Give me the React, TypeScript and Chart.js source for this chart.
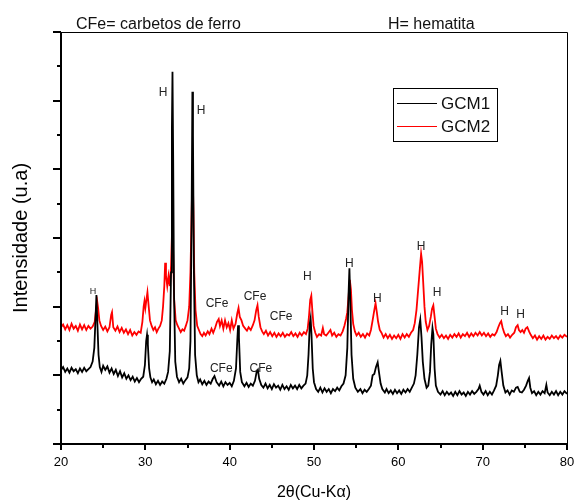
import React, { useEffect, useRef } from 'react';
import { Chart, registerables } from 'chart.js';

Chart.register(...registerables);

const FONT = '"Liberation Sans", Arial, sans-serif';

// 2θ (degrees) and intensity (arbitrary units)
const gcm1: [number, number][] = [
  [20.0, 1.08], [20.25, 1.12], [20.5, 1.05], [20.75, 1.10], [21.0, 1.04], [21.25, 1.11], [21.5, 1.06], [21.75, 1.09],
  [22.0, 1.03], [22.25, 1.10], [22.5, 1.05], [22.75, 1.11], [23.0, 1.06], [23.25, 1.09], [23.5, 1.12], [23.75, 1.20],
  [23.95, 1.40], [24.1, 1.85], [24.2, 2.17], [24.3, 1.80], [24.45, 1.30], [24.6, 1.12], [24.8, 1.05], [25.0, 1.14],
  [25.25, 1.08], [25.5, 1.13], [25.75, 1.04], [26.0, 1.10], [26.25, 1.02], [26.5, 1.08], [26.75, 0.99], [27.0, 1.06],
  [27.25, 0.97], [27.5, 1.03], [27.75, 0.95], [28.0, 1.00], [28.25, 0.93], [28.5, 0.98], [28.75, 0.91], [29.0, 0.96],
  [29.25, 0.90], [29.5, 0.95], [29.75, 0.98], [29.95, 1.15], [30.1, 1.50], [30.2, 1.59], [30.3, 1.45], [30.45, 1.10],
  [30.6, 0.97], [30.8, 0.90], [31.0, 0.94], [31.25, 0.87], [31.5, 0.92], [31.75, 0.86], [32.0, 0.91], [32.25, 0.88],
  [32.5, 0.95], [32.7, 1.05], [32.9, 1.35], [33.05, 2.5], [33.15, 4.6], [33.22, 5.42], [33.3, 4.2], [33.4, 2.2],
  [33.55, 1.2], [33.75, 0.98], [34.0, 0.90], [34.25, 0.95], [34.5, 0.88], [34.75, 0.93], [35.0, 0.97], [35.2, 1.10],
  [35.35, 1.5], [35.48, 3.2], [35.58, 5.13], [35.65, 4.5], [35.75, 2.6], [35.9, 1.3], [36.1, 1.00], [36.3, 0.90],
  [36.5, 0.94], [36.75, 0.87], [37.0, 0.92], [37.25, 0.86], [37.5, 0.91], [37.75, 0.88], [38.0, 0.95], [38.2, 0.99],
  [38.45, 0.90], [38.75, 0.85], [39.0, 0.91], [39.25, 0.84], [39.5, 0.90], [39.75, 0.86], [40.0, 0.89], [40.25, 0.84],
  [40.5, 0.92], [40.75, 1.10], [40.9, 1.50], [41.0, 1.73], [41.1, 1.55], [41.25, 1.05], [41.45, 0.90], [41.75, 0.84],
  [42.0, 0.89], [42.25, 0.83], [42.5, 0.88], [42.75, 0.85], [43.0, 0.92], [43.2, 1.05], [43.35, 1.08], [43.5, 0.95],
  [43.75, 0.86], [44.0, 0.82], [44.25, 0.88], [44.5, 0.81], [44.75, 0.86], [45.0, 0.80], [45.25, 0.87], [45.5, 0.82],
  [45.75, 0.85], [46.0, 0.79], [46.25, 0.86], [46.5, 0.80], [46.75, 0.84], [47.0, 0.79], [47.25, 0.86], [47.5, 0.81],
  [47.75, 0.85], [48.0, 0.80], [48.25, 0.86], [48.5, 0.81], [48.75, 0.85], [49.0, 0.88], [49.2, 1.00], [49.35, 1.30],
  [49.5, 1.75], [49.6, 1.83], [49.7, 1.60], [49.85, 1.10], [50.0, 0.90], [50.25, 0.80], [50.5, 0.76], [50.75, 0.82],
  [51.0, 0.75], [51.25, 0.81], [51.5, 0.76], [51.75, 0.80], [52.0, 0.74], [52.25, 0.80], [52.5, 0.77], [52.75, 0.82],
  [53.0, 0.78], [53.25, 0.84], [53.5, 0.88], [53.75, 1.00], [53.95, 1.40], [54.1, 2.20], [54.2, 2.56], [54.3, 2.10],
  [54.45, 1.30], [54.65, 0.95], [54.9, 0.82], [55.2, 0.76], [55.5, 0.80], [55.75, 0.74], [56.0, 0.79], [56.25, 0.76],
  [56.5, 0.80], [56.75, 0.85], [56.95, 1.00], [57.15, 1.02], [57.35, 1.12], [57.55, 1.19], [57.7, 1.05], [57.9, 0.88],
  [58.1, 0.80], [58.4, 0.75], [58.6, 0.80], [58.85, 0.74], [59.1, 0.78], [59.35, 0.73], [59.6, 0.79], [59.85, 0.74],
  [60.1, 0.78], [60.35, 0.73], [60.6, 0.79], [60.85, 0.75], [61.1, 0.80], [61.35, 0.76], [61.6, 0.82], [61.85, 0.88],
  [62.05, 1.00], [62.25, 1.30], [62.45, 1.70], [62.6, 1.81], [62.75, 1.55], [62.9, 1.20], [63.1, 0.95], [63.35, 0.82],
  [63.55, 0.85], [63.75, 1.05], [63.9, 1.45], [64.05, 1.69], [64.15, 1.60], [64.3, 1.10], [64.45, 0.85], [64.7, 0.76],
  [65.0, 0.72], [65.25, 0.77], [65.5, 0.71], [65.75, 0.76], [66.0, 0.72], [66.25, 0.75], [66.5, 0.70], [66.75, 0.76],
  [67.0, 0.71], [67.25, 0.77], [67.5, 0.72], [67.75, 0.75], [68.0, 0.70], [68.25, 0.76], [68.5, 0.72], [68.75, 0.77],
  [69.0, 0.73], [69.25, 0.76], [69.5, 0.80], [69.65, 0.85], [69.85, 0.76], [70.1, 0.72], [70.35, 0.77], [70.6, 0.71],
  [70.85, 0.76], [71.1, 0.72], [71.35, 0.78], [71.6, 0.85], [71.8, 1.00], [71.95, 1.15], [72.1, 1.21], [72.25, 1.05],
  [72.45, 0.85], [72.7, 0.75], [72.95, 0.78], [73.2, 0.72], [73.45, 0.78], [73.7, 0.76], [73.95, 0.82], [74.15, 0.83],
  [74.4, 0.76], [74.65, 0.75], [74.9, 0.79], [75.15, 0.85], [75.35, 0.92], [75.5, 0.96], [75.65, 0.82], [75.85, 0.74],
  [76.1, 0.77], [76.35, 0.71], [76.6, 0.76], [76.85, 0.72], [77.1, 0.77], [77.35, 0.74], [77.55, 0.86], [77.7, 0.75],
  [77.95, 0.71], [78.2, 0.76], [78.45, 0.72], [78.7, 0.77], [78.95, 0.71], [79.2, 0.76], [79.45, 0.72], [79.7, 0.77],
  [80.0, 0.73],
];

const gcm2: [number, number][] = [
  [20.0, 1.70], [20.25, 1.74], [20.5, 1.67], [20.75, 1.73], [21.0, 1.66], [21.25, 1.75], [21.5, 1.68], [21.75, 1.72],
  [22.0, 1.65], [22.25, 1.74], [22.5, 1.67], [22.75, 1.73], [23.0, 1.66], [23.25, 1.72], [23.5, 1.68], [23.75, 1.71],
  [24.0, 1.78], [24.15, 1.95], [24.3, 2.07], [24.4, 1.98], [24.55, 1.80], [24.75, 1.72], [25.0, 1.66], [25.25, 1.71],
  [25.5, 1.64], [25.75, 1.70], [25.95, 1.88], [26.05, 1.92], [26.2, 1.70], [26.45, 1.65], [26.7, 1.71], [26.95, 1.63],
  [27.2, 1.69], [27.45, 1.62], [27.7, 1.67], [27.95, 1.60], [28.2, 1.66], [28.45, 1.58], [28.7, 1.63], [28.95, 1.59],
  [29.2, 1.64], [29.45, 1.62], [29.65, 1.78], [29.8, 2.00], [29.9, 2.08], [30.0, 1.98], [30.15, 2.12], [30.25, 2.21],
  [30.4, 2.00], [30.55, 1.80], [30.75, 1.72], [30.95, 1.66], [31.15, 1.70], [31.35, 1.63], [31.55, 1.68], [31.75, 1.72],
  [31.95, 1.80], [32.1, 2.00], [32.25, 2.30], [32.35, 2.64], [32.45, 2.45], [32.6, 2.30], [32.75, 2.45], [32.9, 2.30],
  [33.05, 2.60], [33.2, 3.23], [33.3, 2.80], [33.42, 2.10], [33.6, 1.80], [33.8, 1.73], [34.0, 1.68], [34.2, 1.63],
  [34.4, 1.67], [34.6, 1.65], [34.8, 1.72], [35.0, 1.80], [35.2, 2.00], [35.35, 2.50], [35.48, 3.30], [35.6, 4.03],
  [35.7, 3.40], [35.8, 2.50], [35.95, 1.95], [36.15, 1.72], [36.35, 1.66], [36.55, 1.60], [36.75, 1.57], [36.95, 1.62],
  [37.15, 1.58], [37.4, 1.64], [37.6, 1.60], [37.85, 1.68], [38.05, 1.62], [38.3, 1.70], [38.5, 1.78], [38.7, 1.82],
  [38.85, 1.72], [39.05, 1.80], [39.25, 1.68], [39.45, 1.80], [39.65, 1.70], [39.85, 1.76], [40.05, 1.66], [40.25, 1.80],
  [40.45, 1.68], [40.7, 1.75], [40.9, 1.90], [41.05, 1.98], [41.2, 1.85], [41.4, 1.80], [41.6, 1.72], [41.85, 1.68],
  [42.05, 1.65], [42.25, 1.70], [42.5, 1.66], [42.75, 1.73], [42.95, 1.80], [43.15, 1.95], [43.3, 2.02], [43.45, 1.85],
  [43.65, 1.70], [43.85, 1.64], [44.05, 1.60], [44.3, 1.65], [44.55, 1.58], [44.8, 1.63], [45.05, 1.57], [45.3, 1.62],
  [45.55, 1.56], [45.8, 1.61], [46.05, 1.57], [46.3, 1.62], [46.55, 1.56], [46.8, 1.60], [47.05, 1.58], [47.3, 1.63],
  [47.55, 1.57], [47.8, 1.61], [48.05, 1.56], [48.3, 1.62], [48.55, 1.58], [48.8, 1.63], [49.05, 1.60], [49.25, 1.68],
  [49.4, 1.85], [49.55, 2.10], [49.68, 2.16], [49.8, 1.95], [49.95, 1.72], [50.15, 1.62], [50.35, 1.56], [50.6, 1.60],
  [50.85, 1.58], [51.05, 1.69], [51.2, 1.60], [51.45, 1.58], [51.7, 1.62], [51.95, 1.66], [52.15, 1.58], [52.4, 1.62],
  [52.65, 1.56], [52.9, 1.60], [53.15, 1.58], [53.4, 1.64], [53.6, 1.72], [53.8, 1.82], [53.95, 1.92], [54.1, 2.15],
  [54.25, 2.39], [54.38, 2.25], [54.5, 1.95], [54.65, 1.75], [54.85, 1.64], [55.05, 1.58], [55.3, 1.62], [55.55, 1.56],
  [55.8, 1.60], [56.05, 1.55], [56.3, 1.61], [56.55, 1.58], [56.75, 1.66], [56.95, 1.80], [57.15, 1.95], [57.3, 2.05],
  [57.45, 1.92], [57.6, 1.78], [57.8, 1.66], [58.0, 1.62], [58.25, 1.55], [58.5, 1.60], [58.75, 1.54], [59.0, 1.59],
  [59.25, 1.53], [59.5, 1.58], [59.75, 1.54], [60.0, 1.59], [60.25, 1.53], [60.5, 1.60], [60.75, 1.55], [61.0, 1.60],
  [61.25, 1.56], [61.5, 1.62], [61.75, 1.66], [61.95, 1.76], [62.15, 1.95], [62.35, 2.25], [62.55, 2.55], [62.7, 2.77],
  [62.82, 2.65], [62.95, 2.35], [63.1, 2.00], [63.25, 1.78], [63.45, 1.66], [63.65, 1.72], [63.85, 1.85], [64.0, 1.97],
  [64.15, 2.02], [64.3, 1.85], [64.45, 1.68], [64.65, 1.60], [64.9, 1.55], [65.15, 1.59], [65.4, 1.54], [65.65, 1.58],
  [65.9, 1.53], [66.15, 1.59], [66.4, 1.55], [66.65, 1.60], [66.9, 1.56], [67.15, 1.61], [67.4, 1.55], [67.65, 1.60],
  [67.9, 1.57], [68.15, 1.62], [68.4, 1.56], [68.65, 1.61], [68.9, 1.57], [69.15, 1.62], [69.4, 1.58], [69.65, 1.63],
  [69.9, 1.58], [70.15, 1.62], [70.4, 1.57], [70.65, 1.61], [70.9, 1.56], [71.15, 1.60], [71.4, 1.58], [71.65, 1.63],
  [71.85, 1.70], [72.05, 1.76], [72.2, 1.79], [72.35, 1.70], [72.55, 1.62], [72.75, 1.57], [73.0, 1.60], [73.25, 1.55],
  [73.5, 1.59], [73.75, 1.62], [73.95, 1.70], [74.15, 1.73], [74.3, 1.66], [74.5, 1.63], [74.7, 1.66], [74.9, 1.62],
  [75.1, 1.68], [75.3, 1.70], [75.5, 1.64], [75.7, 1.59], [75.95, 1.54], [76.2, 1.58], [76.45, 1.52], [76.7, 1.57],
  [76.95, 1.53], [77.2, 1.58], [77.45, 1.52], [77.7, 1.56], [77.95, 1.53], [78.2, 1.58], [78.45, 1.54], [78.7, 1.57],
  [78.95, 1.53], [79.2, 1.58], [79.45, 1.55], [79.7, 1.59], [80.0, 1.56],
];

const seriesNames = ['GCM1', 'GCM2'];
const seriesColors = ['#000000', '#ff0000'];
const xTickValues = [20, 30, 40, 50, 60, 70, 80];
const headerLeft = 'CFe= carbetos de ferro';
const headerRight = 'H= hematita';
const xTitle = '2θ(Cu-Kα)';
const yTitle = 'Intensidade (u.a)';

// peak annotations: text, 2θ, intensity, font size
const peakLabels: [string, number, number, number][] = [
  ['H', 23.8, 2.22, 9],
  ['H', 32.1, 5.11, 12],
  ['H', 36.6, 4.86, 12],
  ['CFe', 38.5, 2.05, 12],
  ['CFe', 43.0, 2.14, 12],
  ['CFe', 46.1, 1.85, 12],
  ['CFe', 39.0, 1.10, 12],
  ['CFe', 43.7, 1.10, 12],
  ['H', 49.2, 2.43, 12],
  ['H', 54.2, 2.62, 12],
  ['H', 57.5, 2.11, 12],
  ['H', 62.7, 2.88, 12],
  ['H', 64.6, 2.20, 12],
  ['H', 72.6, 1.92, 12],
  ['H', 74.5, 1.88, 12],
];

const decorPlugin = {
  id: 'decor',
  afterDraw(chart: any) {
    const { ctx, chartArea, scales } = chart;
    const { left, right, top, bottom } = chartArea;
    const x = scales.x;
    const y = scales.y;
    ctx.save();
    ctx.strokeStyle = '#000';
    // frame
    ctx.lineWidth = 1;
    ctx.beginPath();
    ctx.moveTo(left, top + 0.5);
    ctx.lineTo(right + 0.5, top + 0.5);
    ctx.lineTo(right + 0.5, bottom);
    ctx.stroke();
    ctx.lineWidth = 2;
    ctx.beginPath();
    ctx.moveTo(left, top);
    ctx.lineTo(left, bottom + 6);
    ctx.moveTo(left - 8, bottom);
    ctx.lineTo(right + 1, bottom);
    ctx.moveTo(right, bottom);
    ctx.lineTo(right, bottom + 6);
    ctx.stroke();
    // y ticks
    for (let v = 0; v <= 6.001; v += 0.5) {
      const py = Math.round(y.getPixelForValue(v));
      const len = Math.abs(v - Math.round(v)) < 0.01 ? 8 : 4;
      ctx.beginPath();
      ctx.moveTo(left - len, py);
      ctx.lineTo(left, py);
      ctx.stroke();
    }
    // x ticks
    for (let v = 20; v <= 80; v += 5) {
      const px = Math.round(x.getPixelForValue(v));
      const len = v % 10 === 0 ? 6 : 4;
      ctx.beginPath();
      ctx.moveTo(px, bottom);
      ctx.lineTo(px, bottom + len);
      ctx.stroke();
    }
    // peak labels
    ctx.fillStyle = '#222';
    ctx.textAlign = 'center';
    ctx.textBaseline = 'middle';
    for (const [t, xv, yv, size] of peakLabels) {
      ctx.font = `${size}px ${FONT}`;
      ctx.fillText(t, x.getPixelForValue(xv), y.getPixelForValue(yv));
    }
    // headers
    ctx.fillStyle = '#111';
    ctx.textAlign = 'left';
    ctx.textBaseline = 'alphabetic';
    ctx.font = `16px ${FONT}`;
    ctx.fillText(headerLeft, left + 15, top - 3);
    ctx.fillText(headerRight, left + 327, top - 3);
    // legend
    const bx = right - 174;
    const by = top + 56;
    ctx.lineWidth = 1;
    ctx.strokeStyle = '#000';
    ctx.strokeRect(bx + 0.5, by + 0.5, 104, 53);
    ctx.font = `17px ${FONT}`;
    ctx.textBaseline = 'middle';
    seriesNames.forEach((name, i) => {
      const ly = by + 15 + i * 23 + 0.5;
      ctx.strokeStyle = seriesColors[i];
      ctx.beginPath();
      ctx.moveTo(bx + 4, ly);
      ctx.lineTo(bx + 44, ly);
      ctx.stroke();
      ctx.fillStyle = '#111';
      ctx.fillText(name, bx + 48, ly + 1);
    });
    ctx.restore();
  },
};

export default function App() {
  const ref = useRef<HTMLCanvasElement | null>(null);
  useEffect(() => {
    if (!ref.current) return;
    const chart = new Chart(ref.current, {
      type: 'line',
      data: {
        datasets: [
          {
            label: seriesNames[0],
            data: gcm1.map(([a, b]) => ({ x: a, y: b })),
            borderColor: seriesColors[0],
            borderWidth: 1.8,
            pointRadius: 0,
            tension: 0,
          },
          {
            label: seriesNames[1],
            data: gcm2.map(([a, b]) => ({ x: a, y: b })),
            borderColor: seriesColors[1],
            borderWidth: 1.8,
            pointRadius: 0,
            tension: 0,
          },
        ],
      },
      options: {
        animation: false,
        responsive: false,
        maintainAspectRatio: false,
        layout: { padding: { left: 0, top: 32, right: 9, bottom: 0 } },
        plugins: { legend: { display: false }, tooltip: { enabled: false } },
        scales: {
          x: {
            type: 'linear',
            min: 20,
            max: 80,
            afterBuildTicks: (s: any) => {
              s.ticks = xTickValues.map((v) => ({ value: v }));
            },
            ticks: { color: '#000', font: { family: FONT, size: 13 }, padding: 11, maxRotation: 0 },
            grid: { display: false, drawTicks: false },
            border: { display: false },
            title: {
              display: true,
              text: xTitle,
              color: '#000',
              font: { family: FONT, size: 16 },
              padding: { top: 0, bottom: 0 },
            },
            afterFit: (s: any) => {
              s.height = 58;
              s.paddingLeft = 0;
              s.paddingRight = 0;
            },
          },
          y: {
            type: 'linear',
            min: 0,
            max: 6,
            ticks: { display: false },
            grid: { display: false, drawTicks: false },
            border: { display: false },
            title: {
              display: true,
              text: yTitle,
              color: '#000',
              font: { family: FONT, size: 20 },
              padding: { top: 9, bottom: 0 },
            },
            afterFit: (s: any) => {
              s.width = 61;
              s.paddingTop = 0;
              s.paddingBottom = 0;
            },
          },
        },
      },
      plugins: [decorPlugin],
    });
    return () => chart.destroy();
  }, []);
  return (
    <div style={{ position: 'fixed', left: 0, top: 0, width: 576, height: 502, background: '#fff' }}>
      <canvas ref={ref} width={576} height={502} style={{ width: 576, height: 502, display: 'block' }} />
    </div>
  );
}
